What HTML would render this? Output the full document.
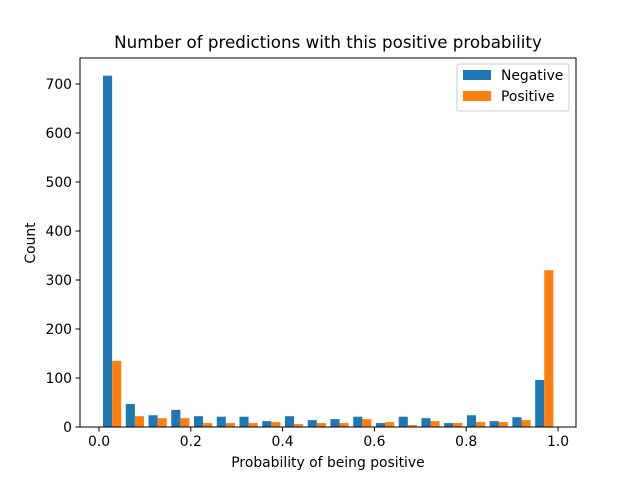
<!DOCTYPE html>
<html><head><meta charset="utf-8"><style>body{margin:0;background:#fff}svg{display:block;font-family:"DejaVu Sans","Liberation Sans",sans-serif}</style></head>
<body>
<svg id="c" width="640" height="480"></svg>
<script>
const binStarts=[0.0038,0.0534,0.1029,0.1525,0.2020,0.2516,0.3011,0.3507,0.4002,0.4498,0.4993,0.5489,0.5984,0.6480,0.6975,0.7471,0.7966,0.8462,0.8957,0.9453];
const negative=[717,47,24,35,22,21,21,12,22,14,16,21,8,21,18,8,24,12,20,96];
const positive=[135,22,18,18,8,8,8,10,6,8,8,16,10,4,12,8,10,10,14,320];
const xTicks=[0,0.2,0.4,0.6,0.8,1.0];
const xTickLabels=["0.0","0.2","0.4","0.6","0.8","1.0"];
const yTicks=[0,100,200,300,400,500,600,700];
const L=80,R=576,T=58,B=427;
const X=v=>99+v*459;
const Y=v=>B-v*0.49;
const svg=document.getElementById('c');
const ns='http://www.w3.org/2000/svg';
function mk(tag,attrs,parent){const e=document.createElementNS(ns,tag);for(const k in attrs)e.setAttribute(k,attrs[k]);(parent||svg).appendChild(e);return e;}
const bw=0.04955;
binStarts.forEach((s,i)=>{
  const x0=s+bw*0.1, w=bw*0.4;
  const r1=mk('rect',{x:X(x0),y:Y(negative[i]),width:X(x0+w)-X(x0),height:B-Y(negative[i]),fill:'#1f77b4'});
  
  
  const r2=mk('rect',{x:X(x0+w),y:Y(positive[i]),width:X(x0+2*w)-X(x0+w),height:B-Y(positive[i]),fill:'#ff7f0e'});
  
  
});
const frame=mk('rect',{x:L,y:T,width:R-L,height:B-T,fill:'none',stroke:'#000','stroke-width':1});


xTicks.forEach((v,i)=>{
  mk('line',{x1:X(v),x2:X(v),y1:B,y2:B+4.5,stroke:'#000'});
  const t=mk('text',{x:X(v),y:B+19,'text-anchor':'middle','font-size':13.9});
  t.textContent=xTickLabels[i];
  
  
});
yTicks.forEach(v=>{
  mk('line',{x1:L-4.5,x2:L,y1:Y(v),y2:Y(v),stroke:'#000'});
  const t=mk('text',{x:L-8,y:Y(v)+5,'text-anchor':'end','font-size':13.9});
  t.textContent=v;
  
  
});
</script>
<svg width="640" height="480" style="position:absolute;left:0;top:0;font-family:'DejaVu Sans','Liberation Sans',sans-serif">
<text x="328" y="48" text-anchor="middle" font-size="16.7">Number of predictions with this positive probability</text>
<text x="328" y="467" text-anchor="middle" font-size="13.9">Probability of being positive</text>
<text x="0" y="0" transform="translate(35,243) rotate(-90)" text-anchor="middle" font-size="13.9">Count</text>
<g>
<rect x="457" y="64" width="112" height="47" rx="2" fill="#fff" stroke="#ccc"/>
<rect x="463" y="70" width="28" height="10" fill="#1f77b4"/>
<text x="501" y="80" font-size="13.9">Negative</text>
<rect x="463" y="91" width="28" height="10" fill="#ff7f0e"/>
<text x="501" y="101" font-size="13.9">Positive</text>
</g>
</svg>
</body></html>
